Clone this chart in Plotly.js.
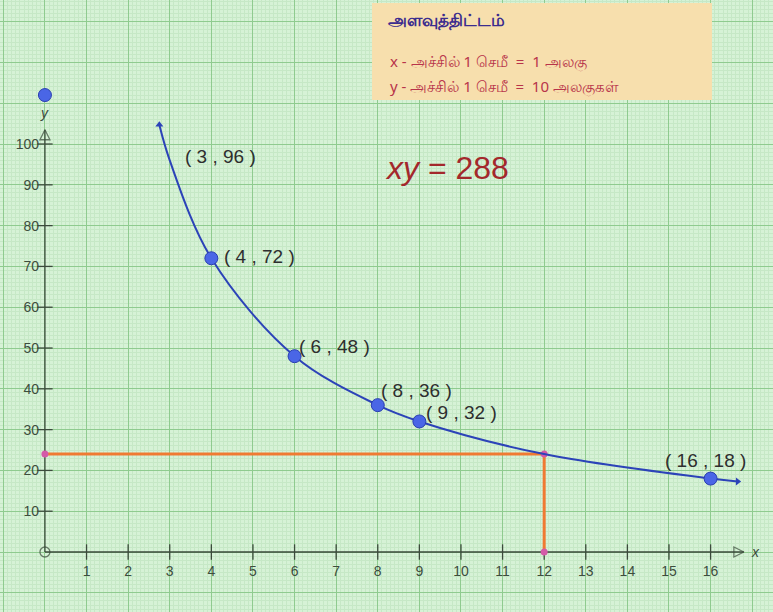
<!DOCTYPE html>
<html>
<head>
<meta charset="utf-8">
<script src="https://cdn.plot.ly/plotly-3.0.1.min.js"></script>
<style>html,body{margin:0;padding:0;background:#d4f1d4;}#chart{width:773px;height:612px;}</style>
</head>
<body>
<div id="chart"></div>
<script>
// ---- data ----
const pointX = [3, 4, 6, 8, 9, 16];
const pointY = [96, 72, 48, 36, 32, 18];
const markedX = [4, 6, 8, 9, 16];
const markedY = [72, 48, 36, 32, 18];
const curveX = [2.75, 3, 4, 6, 8, 9, 12, 16, 16.65];
const curveY = [104.7, 96, 72, 48, 36, 32, 24, 18, 17.3];
const readX = [0, 12, 12];
const readY = [24, 24, 0];
const xTicks = [1, 2, 3, 4, 5, 6, 7, 8, 9, 10, 11, 12, 13, 14, 15, 16];
const yTicks = [10, 20, 30, 40, 50, 60, 70, 80, 90, 100];
const xGridVals = [-1, 0, 1, 2, 3, 4, 5, 6, 7, 8, 9, 10, 11, 12, 13, 14, 15, 16, 17];
const yGridVals = [-10, 0, 10, 20, 30, 40, 50, 60, 70, 80, 90, 100, 110, 120, 130];
const equationText = "<i>xy</i> = 288";
const scaleTitle = "அளவுத்திட்டம்";
const scaleLines = ["x - அச்சில் 1 செமீ  =  1 அலகு", "y - அச்சில் 1 செமீ  =  10 அலகுகள்"];

// ---- styles / positions ----
const labelShiftX = [13, 11, 2, 1, 5, -48];
const labelShiftY = [4, 2, 10, 15, 9, 18];
const axisCol = '#3b4a3b';
const blue = '#2c43b8';
const font = 'Liberation Sans, Arial, sans-serif';

const traces = [
  // x axis line with arrow
  {x: [0, 16.8], y: [0, 0], mode: 'lines+markers', line: {color: axisCol, width: 1.3},
   marker: {symbol: ['circle-open', 'arrow-right-open'], size: [10, 10], color: axisCol, line: {width: 1.3, color: axisCol}},
   hoverinfo: 'skip'},
  // y axis line with arrow
  {x: [0, 0], y: [0, 103.5], mode: 'lines+markers', line: {color: axisCol, width: 1.3},
   marker: {symbol: ['circle-open', 'arrow-up-open'], size: [0, 10], color: axisCol, line: {width: 1.3, color: axisCol}},
   hoverinfo: 'skip'},
  // tick marks
  {x: xTicks, y: xTicks.map(() => 0), mode: 'markers',
   marker: {symbol: 'line-ns', size: 11, line: {width: 1.3, color: axisCol}}, hoverinfo: 'skip'},
  {x: yTicks.map(() => 0), y: yTicks, mode: 'markers',
   marker: {symbol: 'line-ew', size: 11, line: {width: 1.3, color: axisCol}}, hoverinfo: 'skip'},
  // reading lines
  {x: readX, y: readY, mode: 'lines', line: {color: '#f07a32', width: 3}, hoverinfo: 'skip'},
  {x: readX, y: readY, mode: 'markers', marker: {color: '#d45aa8', size: 7}, hoverinfo: 'skip'},
  // curve
  {x: curveX, y: curveY, mode: 'lines', line: {color: blue, width: 2, shape: 'spline', smoothing: 1.0}, hoverinfo: 'skip'},
  {x: [curveX[0], curveX[curveX.length - 1]], y: [curveY[0], curveY[curveY.length - 1]], mode: 'markers',
   marker: {symbol: ['triangle-up', 'triangle-right'], size: 7, color: blue}, hoverinfo: 'skip'},
  // points
  {x: markedX, y: markedY, mode: 'markers',
   marker: {color: '#4a66e6', size: 13, line: {color: '#2a3fb0', width: 1}}, hoverinfo: 'skip'},
  // blue dot above y axis
  {x: [0], y: [112], mode: 'markers', marker: {color: '#4a66e6', size: 13, line: {color: '#2a3fb0', width: 1}}, hoverinfo: 'skip'}
];

const annotations = [];
pointX.forEach((px, i) => {
  annotations.push({x: px, y: pointY[i], xref: 'x', yref: 'y', text: '( ' + px + ' , ' + pointY[i] + ' )',
    showarrow: false, xanchor: 'left', yanchor: 'middle', xshift: labelShiftX[i], yshift: labelShiftY[i],
    font: {family: font, size: 19, color: '#2e2e2e'}});
});
annotations.push({x: 9.66, y: 94.2, xref: 'x', yref: 'y', text: equationText, showarrow: false,
  font: {family: font, size: 32, color: '#a3282c'}});
annotations.push({x: 16.8, y: 0, xref: 'x', yref: 'y', text: '<i>x</i>', showarrow: false,
  xanchor: 'left', xshift: 5, font: {family: font, size: 14, color: axisCol}});
annotations.push({x: 0, y: 107.5, xref: 'x', yref: 'y', text: '<i>y</i>', showarrow: false,
  font: {family: font, size: 14, color: axisCol}});
annotations.push({x: 386 / 773, y: 1 - 19 / 612, xref: 'paper', yref: 'paper', text: '<b>' + scaleTitle + '</b>', showarrow: false,
  xanchor: 'left', yanchor: 'middle', font: {family: 'Noto Sans, sans-serif', size: 17, color: '#3b2c8e'}});
scaleLines.forEach((t, i) => {
  annotations.push({x: 388 / 773, y: 1 - (62 + i * 25) / 612, xref: 'paper', yref: 'paper', text: t, showarrow: false,
    xanchor: 'left', yanchor: 'middle', font: {family: 'Noto Sans, sans-serif', size: 15, color: '#b8344a'}});
});

const layout = {
  width: 773, height: 612,
  margin: {l: 0, r: 0, t: 0, b: 0},
  paper_bgcolor: '#d6f2d6', plot_bgcolor: '#d6f2d6',
  showlegend: false,
  xaxis: {
    range: [-1.08, 17.5], anchor: 'free', position: 60 / 612,
    tickmode: 'array', tickvals: xGridVals,
    ticktext: xGridVals.map(v => xTicks.includes(v) ? String(v) : ''),
    showgrid: true, gridcolor: '#8fcb8f', gridwidth: 1,
    minor: {tickmode: 'linear', tick0: 0, dtick: 0.1, showgrid: true, gridcolor: '#c6e8c6', gridwidth: 1},
    zeroline: false, showline: false, ticks: '', ticklabelstandoff: 9,
    tickfont: {family: font, size: 14, color: '#3d4d3d'}, fixedrange: true
  },
  yaxis: {
    range: [-14.7, 135.3], anchor: 'free', position: 45 / 773,
    tickmode: 'array', tickvals: yGridVals,
    ticktext: yGridVals.map(v => yTicks.includes(v) ? String(v) : ''),
    showgrid: true, gridcolor: '#8fcb8f', gridwidth: 1,
    minor: {tickmode: 'linear', tick0: 0, dtick: 1, showgrid: true, gridcolor: '#c6e8c6', gridwidth: 1},
    zeroline: false, showline: false, ticks: '', ticklabelstandoff: 6,
    tickfont: {family: font, size: 14, color: '#3d4d3d'}, fixedrange: true
  },
  shapes: [
    {type: 'rect', xref: 'paper', yref: 'paper', x0: 372 / 773, x1: 712 / 773, y0: 1 - 100 / 612, y1: 1 - 3 / 612,
     fillcolor: '#f7dfad', line: {width: 0}, layer: 'above'}
  ],
  annotations: annotations
};

Plotly.newPlot('chart', traces, layout, {staticPlot: true, displayModeBar: false});
</script>
</body>
</html>
